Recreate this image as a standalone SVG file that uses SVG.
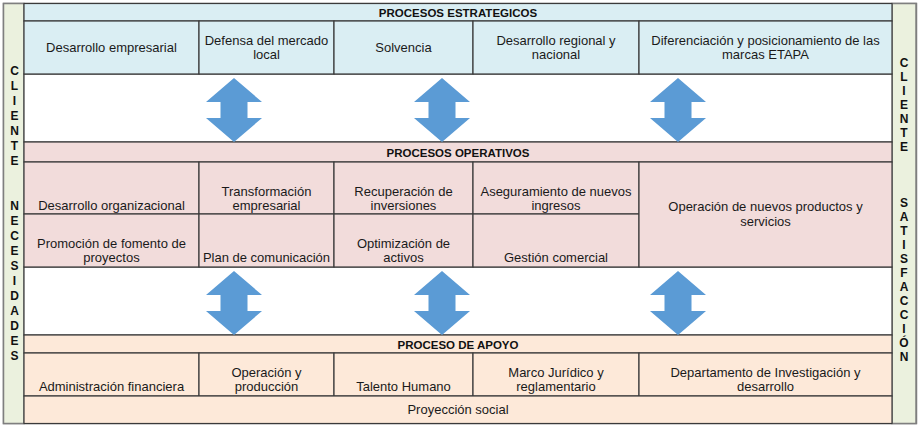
<svg xmlns="http://www.w3.org/2000/svg" xmlns:xlink="http://www.w3.org/1999/xlink" width="923" height="428" viewBox="0 0 923 428">
<style>
.t{font-family:"Liberation Sans",Arial,sans-serif;font-size:13px;fill:#1a1a1a;text-anchor:middle}
.h{font-family:"Liberation Sans",Arial,sans-serif;font-size:11.5px;font-weight:bold;fill:#111;text-anchor:middle}
.s{font-family:"Liberation Sans",Arial,sans-serif;font-size:12px;font-weight:bold;fill:#111;text-anchor:middle}
.b{fill:#DAEEF3;stroke:#3a3a3a;stroke-width:1.2}
.p{fill:#F2DCDB;stroke:#3a3a3a;stroke-width:1.2}
.o{fill:#FDE9D9;stroke:#3a3a3a;stroke-width:1.2}
.w{fill:#ffffff;stroke:#3a3a3a;stroke-width:1.2}
.g{fill:#EBF1DE;stroke:#7f7f7f;stroke-width:1.5}
.a{fill:#5B9BD5}
</style>
<defs>
<path id="arr" d="M0,0 L28,24 L13.5,24 L13.5,40 L28,40 L0,64 L-28,40 L-13.5,40 L-13.5,24 L-28,24 Z"/>
</defs>
<rect x="0" y="0" width="923" height="428" fill="#ffffff"/>
<rect x="3.5" y="3.5" width="913" height="420" fill="#ffffff" stroke="#7f7f7f" stroke-width="1.5"/>

<g id="cliente-necesidades">
<rect class="g" x="3.5" y="3.5" width="20.5" height="420"/>
<text class="s" x="14.5" y="74.5">C</text>
<text class="s" x="14.5" y="89.5">L</text>
<text class="s" x="14.5" y="104.5">I</text>
<text class="s" x="14.5" y="119.5">E</text>
<text class="s" x="14.5" y="134.5">N</text>
<text class="s" x="14.5" y="149.5">T</text>
<text class="s" x="14.5" y="164.5">E</text>
<text class="s" x="14.5" y="209.5">N</text>
<text class="s" x="14.5" y="224.5">E</text>
<text class="s" x="14.5" y="239.5">C</text>
<text class="s" x="14.5" y="254.5">E</text>
<text class="s" x="14.5" y="269.5">S</text>
<text class="s" x="14.5" y="284.5">I</text>
<text class="s" x="14.5" y="299.5">D</text>
<text class="s" x="14.5" y="314.5">A</text>
<text class="s" x="14.5" y="329.5">D</text>
<text class="s" x="14.5" y="344.5">E</text>
<text class="s" x="14.5" y="359.5">S</text>
</g>

<g id="cliente-satisfaccion">
<rect class="g" x="892" y="3.5" width="24" height="420"/>
<text class="s" x="904" y="66.5">C</text>
<text class="s" x="904" y="80.5">L</text>
<text class="s" x="904" y="94.5">I</text>
<text class="s" x="904" y="108.5">E</text>
<text class="s" x="904" y="122.5">N</text>
<text class="s" x="904" y="136.5">T</text>
<text class="s" x="904" y="150.5">E</text>
<text class="s" x="904" y="206.5">S</text>
<text class="s" x="904" y="220.5">A</text>
<text class="s" x="904" y="234.5">T</text>
<text class="s" x="904" y="248.5">I</text>
<text class="s" x="904" y="262.5">S</text>
<text class="s" x="904" y="276.5">F</text>
<text class="s" x="904" y="290.5">A</text>
<text class="s" x="904" y="304.5">C</text>
<text class="s" x="904" y="318.5">C</text>
<text class="s" x="904" y="332.5">I</text>
<text class="s" x="904" y="346.5">Ó</text>
<text class="s" x="904" y="360.5">N</text>
</g>

<g id="bands">
<rect class="w" x="24" y="74" width="868" height="68"/>
<rect class="w" x="24" y="267" width="868" height="68"/>
</g>

<g id="procesos-estrategicos">
<rect class="b" x="24" y="3.5" width="868" height="17.5"/>
<text class="h" x="458" y="17">PROCESOS ESTRATEGICOS</text>
</g>
<g id="desarrollo-empresarial">
<rect class="b" x="24" y="21" width="175" height="53"/>
<text class="t" x="111.5" y="52">Desarrollo empresarial</text>
</g>
<g id="defensa-mercado">
<rect class="b" x="199" y="21" width="135" height="53"/>
<text class="t" x="266.5" y="45">Defensa del mercado</text>
<text class="t" x="266.5" y="59">local</text>
</g>
<g id="solvencia">
<rect class="b" x="334" y="21" width="139" height="53"/>
<text class="t" x="403.5" y="52">Solvencia</text>
</g>
<g id="desarrollo-regional">
<rect class="b" x="473" y="21" width="166" height="53"/>
<text class="t" x="556" y="45">Desarrollo regional y</text>
<text class="t" x="556" y="59">nacional</text>
</g>
<g id="diferenciacion">
<rect class="b" x="639" y="21" width="253" height="53"/>
<text class="t" x="765.5" y="45">Diferenciación y posicionamiento de las</text>
<text class="t" x="765.5" y="59">marcas ETAPA</text>
</g>

<g id="procesos-operativos">
<rect class="p" x="24" y="142" width="868" height="20"/>
<text class="h" x="458" y="157">PROCESOS OPERATIVOS</text>
</g>
<g id="desarrollo-organizacional">
<rect class="p" x="24" y="162" width="175" height="52"/>
<text class="t" x="111.5" y="210">Desarrollo organizacional</text>
</g>
<g id="transformacion">
<rect class="p" x="199" y="162" width="135" height="52"/>
<text class="t" x="266.5" y="196">Transformación</text>
<text class="t" x="266.5" y="210">empresarial</text>
</g>
<g id="recuperacion">
<rect class="p" x="334" y="162" width="139" height="52"/>
<text class="t" x="403.5" y="196">Recuperación de</text>
<text class="t" x="403.5" y="210">inversiones</text>
</g>
<g id="aseguramiento">
<rect class="p" x="473" y="162" width="166" height="52"/>
<text class="t" x="556" y="196">Aseguramiento de nuevos</text>
<text class="t" x="556" y="210">ingresos</text>
</g>
<g id="promocion">
<rect class="p" x="24" y="214" width="175" height="53"/>
<text class="t" x="111.5" y="248">Promoción de fomento de</text>
<text class="t" x="111.5" y="262">proyectos</text>
</g>
<g id="plan-comunicacion">
<rect class="p" x="199" y="214" width="135" height="53"/>
<text class="t" x="266.5" y="262">Plan de comunicación</text>
</g>
<g id="optimizacion">
<rect class="p" x="334" y="214" width="139" height="53"/>
<text class="t" x="403.5" y="248">Optimización de</text>
<text class="t" x="403.5" y="262">activos</text>
</g>
<g id="gestion-comercial">
<rect class="p" x="473" y="214" width="166" height="53"/>
<text class="t" x="556" y="262">Gestión comercial</text>
</g>
<g id="operacion-nuevos">
<rect class="p" x="639" y="162" width="253" height="105"/>
<text class="t" x="765.5" y="211">Operación de nuevos productos y</text>
<text class="t" x="765.5" y="226">servicios</text>
</g>

<g id="proceso-apoyo">
<rect class="o" x="24" y="335" width="868" height="18"/>
<text class="h" x="458" y="349">PROCESO DE APOYO</text>
</g>
<g id="administracion-financiera">
<rect class="o" x="24" y="353" width="175" height="43"/>
<text class="t" x="111.5" y="391">Administración financiera</text>
</g>
<g id="operacion-produccion">
<rect class="o" x="199" y="353" width="135" height="43"/>
<text class="t" x="266.5" y="377">Operación y</text>
<text class="t" x="266.5" y="391">producción</text>
</g>
<g id="talento-humano">
<rect class="o" x="334" y="353" width="139" height="43"/>
<text class="t" x="403.5" y="391">Talento Humano</text>
</g>
<g id="marco-juridico">
<rect class="o" x="473" y="353" width="166" height="43"/>
<text class="t" x="556" y="377">Marco Jurídico y</text>
<text class="t" x="556" y="391">reglamentario</text>
</g>
<g id="investigacion-desarrollo">
<rect class="o" x="639" y="353" width="253" height="43"/>
<text class="t" x="765.5" y="377">Departamento de Investigación y</text>
<text class="t" x="765.5" y="391">desarrollo</text>
</g>
<g id="proyeccion-social">
<rect class="o" x="24" y="396" width="868" height="27.5"/>
<text class="t" x="458" y="414">Proyección social</text>
</g>

<g id="connectors">
<use class="a" xlink:href="#arr" href="#arr" x="234" y="78"/>
<use class="a" xlink:href="#arr" href="#arr" x="442" y="78"/>
<use class="a" xlink:href="#arr" href="#arr" x="678" y="78"/>
<use class="a" xlink:href="#arr" href="#arr" x="234" y="271"/>
<use class="a" xlink:href="#arr" href="#arr" x="442" y="271"/>
<use class="a" xlink:href="#arr" href="#arr" x="678" y="271"/>
</g>
</svg>
